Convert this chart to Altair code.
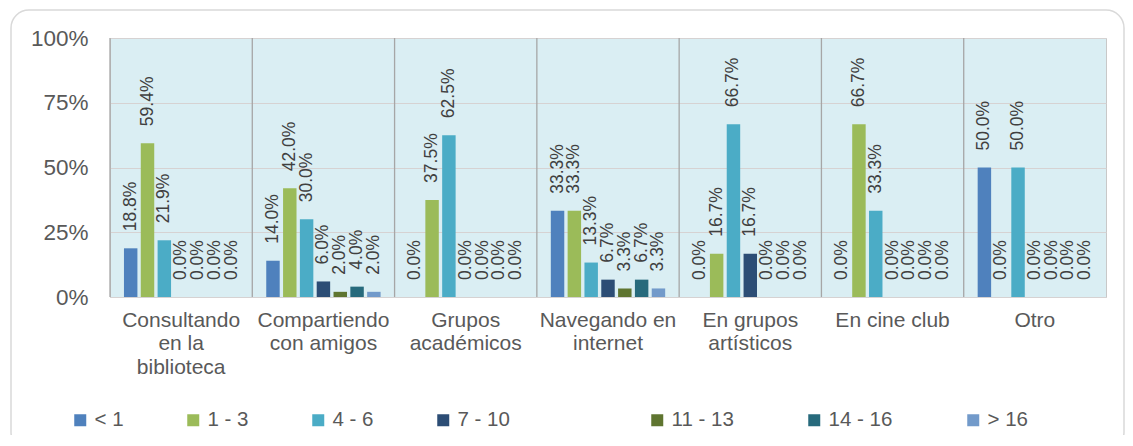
import altair as alt
import pandas as pd

categories = ["Consultando en la biblioteca", "Compartiendo con amigos", "Grupos académicos",
              "Navegando en internet", "En grupos artísticos", "En cine club", "Otro"]
category_lines = [["Consultando", "en la", "biblioteca"], ["Compartiendo", "con amigos"],
                  ["Grupos", "académicos"], ["Navegando en", "internet"],
                  ["En grupos", "artísticos"], ["En cine club"], ["Otro"]]
series = ["< 1", "1 - 3", "4 - 6", "7 - 10", "11 - 13", "14 - 16", "> 16"]
colors = ["#4F81BD", "#9BBB59", "#4BACC6", "#2C4D75", "#5F7530", "#276A7C", "#729ACA"]

lt1 = [18.8, 14.0, 0.0, 33.3, 0.0, 0.0, 50.0]
s1_3 = [59.4, 42.0, 37.5, 33.3, 16.7, 66.7, 0.0]
s4_6 = [21.9, 30.0, 62.5, 13.3, 66.7, 33.3, 50.0]
s7_10 = [0.0, 6.0, 0.0, 6.7, 16.7, 0.0, 0.0]
s11_13 = [0.0, 2.0, 0.0, 3.3, 0.0, 0.0, 0.0]
s14_16 = [0.0, 4.0, 0.0, 6.7, 0.0, 0.0, 0.0]
gt16 = [0.0, 2.0, 0.0, 3.3, 0.0, 0.0, 0.0]
y_ticks = [0, 25, 50, 75, 100]

series_values = [lt1, s1_3, s4_6, s7_10, s11_13, s14_16, gt16]
rows = []
for s, vals in zip(series, series_values):
    for c, v in zip(categories, vals):
        rows.append({"cat": c, "serie": s, "value": v})
df = pd.DataFrame(rows)
cats_df = pd.DataFrame({"cat": categories})

FONT = "Liberation Sans"

label_expr = "''"
for c, lines in reversed(list(zip(categories, category_lines))):
    arr = "[" + ",".join("'" + l + "'" for l in lines) + "]"
    label_expr = f"datum.value == '{c}' ? {arr} : ({label_expr})"

x_scale = alt.Scale(domain=categories, paddingInner=0, paddingOuter=0)
x_enc = alt.X("cat:N", sort=categories, title=None, scale=x_scale,
              axis=alt.Axis(labelExpr=label_expr, labelAngle=0, labelFontSize=21,
                            labelLineHeight=23.5, labelPadding=12, labelColor="#595959",
                            labelFont=FONT, ticks=False, domain=False, grid=False,
                            labelLimit=200, labelAlign="center", labelBaseline="top"))
xoff = alt.XOffset("serie:N", sort=series,
                   scale=alt.Scale(domain=series, paddingInner=0.2, paddingOuter=0.83))
y_enc = alt.Y("value:Q", title=None,
              scale=alt.Scale(domain=[0, 100], nice=False),
              axis=alt.Axis(values=y_ticks, labelExpr="datum.value + '%'",
                            labelFontSize=22.5, labelColor="#595959", labelFont=FONT,
                            ticks=False, domain=False, labelPadding=22,
                            grid=True, gridColor="#D6D2D2", gridWidth=1))


def legend(x, pad):
    return alt.Legend(orient="none", legendX=x, legendY=372,
                      direction="horizontal", columns=4,
                      gridAlign="none", columnPadding=pad,
                      title=None, symbolType="square",
                      symbolSize=144, symbolStrokeWidth=0,
                      labelFontSize=20.5, labelFont=FONT,
                      labelColor="#595959", labelOffset=4, padding=0)


series_a, colors_a = series[:4], colors[:4]
series_b, colors_b = series[4:], colors[4:]

frame = alt.Chart(pd.DataFrame({"a": [0]})).mark_rect(
    fillOpacity=0, stroke="#D9D9D9", strokeWidth=1.5, cornerRadius=18
).encode(x=alt.value(-99), x2=alt.value(1014), y=alt.value(-28), y2=alt.value(412))

bars_a = alt.Chart(df).transform_filter(
    alt.FieldOneOfPredicate(field="serie", oneOf=series_a)
).mark_bar().encode(
    x=x_enc, xOffset=xoff, y=y_enc,
    color=alt.Color("serie:N", sort=series_a,
                    scale=alt.Scale(domain=series_a, range=colors_a),
                    legend=legend(-40, 59))
)

bars_b = alt.Chart(df).transform_filter(
    alt.FieldOneOfPredicate(field="serie", oneOf=series_b)
).mark_bar().encode(
    x=x_enc, xOffset=xoff, y=y_enc,
    color=alt.Color("serie:N", sort=series_b,
                    scale=alt.Scale(domain=series_b, range=colors_b),
                    legend=legend(537, 70))
)

texts = alt.Chart(df).mark_text(
    angle=270, align="left", baseline="middle", dx=17, fontSize=17.5,
    font=FONT, color="#404040"
).encode(
    x=x_enc, xOffset=xoff, y=y_enc,
    text="label:N"
).transform_calculate(label="format(datum.value, '.1f') + '%'")

main = alt.layer(frame, bars_a, bars_b, texts).resolve_scale(color="independent")

seps = alt.Chart(cats_df).mark_rule(color="#A6A6A6", strokeWidth=1.3).encode(
    x=alt.X("cat:N", sort=categories, bandPosition=0, axis=None,
            scale=alt.Scale(domain=categories, paddingInner=0, paddingOuter=0))
)

chart = alt.layer(seps, main).resolve_scale(x="independent").properties(
    width=996, height=259,
    autosize=alt.AutoSizeParams(type="none"),
    padding={"left": 102, "top": 30, "right": 19, "bottom": 138},
).configure_view(fill="#DAEEF3", stroke="#C8C8C8", strokeWidth=1)

chart.save("out.html", embed_options={"renderer": "svg", "actions": False})
